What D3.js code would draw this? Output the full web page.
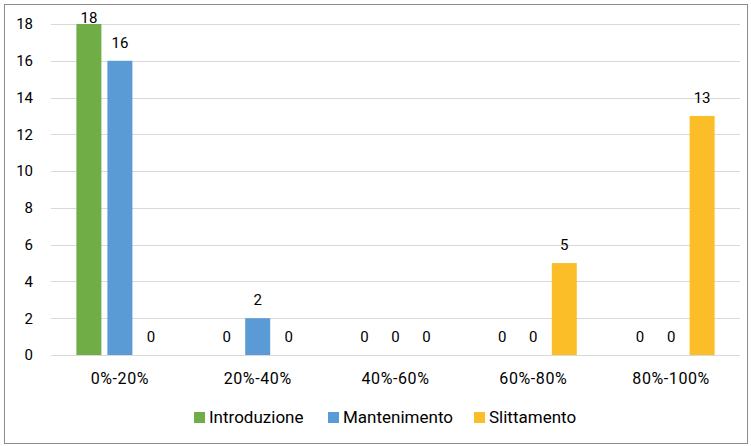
<!DOCTYPE html>
<html>
<head>
<meta charset="utf-8">
<script src="https://cdn.jsdelivr.net/npm/d3@7"></script>
<style>
  html, body { margin: 0; padding: 0; background: #fff; }
  svg { display: block; font-family: Roboto, "Noto Sans", sans-serif; }
</style>
</head>
<body>
<svg id="chart" width="751" height="446"></svg>
<script>
// Percentage ranges on the x axis
const categories = ["0%-20%", "20%-40%", "40%-60%", "60%-80%", "80%-100%"];
// One series per phase
const seriesNames = ["Introduzione", "Mantenimento", "Slittamento"];
const introduzione = [18, 0, 0, 0, 0];
const mantenimento = [16, 2, 0, 0, 0];
const slittamento = [0, 0, 0, 5, 13];
const yTicks = [0, 2, 4, 6, 8, 10, 12, 14, 16, 18];
const colors = ["#70AD47", "#5B9BD5", "#FBBE28"];

const seriesValues = [introduzione, mantenimento, slittamento];
const FONT = "Roboto, 'Noto Sans', sans-serif";
const FS = 15;

const svg = d3.select("#chart");
const W = 751, H = 446;

// Outer frame
svg.append("rect")
  .attr("x", 4.5).attr("y", 4.5)
  .attr("width", W - 8).attr("height", H - 7)
  .attr("fill", "#fff").attr("stroke", "#8c8c8c").attr("stroke-width", 1);

const plot = { left: 51, right: 740, top: 24, bottom: 355 };

const x = d3.scaleBand().domain(categories).range([plot.left, plot.right]);
const xInner = d3.scaleBand().domain(seriesNames)
  .range([0, 87]).paddingInner(0.194);
const y = d3.scaleLinear().domain([0, 18]).range([plot.bottom, plot.top]);

// Horizontal gridlines
svg.append("g").selectAll("line").data(yTicks).join("line")
  .attr("x1", plot.left).attr("x2", plot.right)
  .attr("y1", d => Math.round(y(d)) + 0.5).attr("y2", d => Math.round(y(d)) + 0.5)
  .attr("stroke", "#d9d9d9").attr("stroke-width", 1);

// Y axis tick labels
const yAxis = d3.axisLeft(y).tickValues(yTicks).tickSize(0).tickPadding(0);
svg.append("g")
  .attr("transform", `translate(${plot.left - 18},0)`)
  .call(yAxis)
  .call(g => g.select(".domain").remove())
  .call(g => g.selectAll("text")
    .attr("font-size", FS).attr("fill", "#000")
    .attr("font-family", FONT));

// X axis category labels
const xAxis = d3.axisBottom(x).tickSize(0).tickPadding(0);
svg.append("g")
  .attr("transform", `translate(0,${plot.bottom + 18})`)
  .call(xAxis)
  .call(g => g.select(".domain").remove())
  .call(g => g.selectAll("text")
    .attr("font-size", FS + 1).attr("fill", "#000")
    .attr("letter-spacing", 0.6)
    .attr("font-family", FONT));

// Bars and value labels
const groupOffset = (x.bandwidth() - 87) / 2;
const groups = svg.append("g").selectAll("g").data(categories).join("g")
  .attr("transform", d => `translate(${x(d) + groupOffset},0)`);

seriesNames.forEach((name, si) => {
  groups.append("rect")
    .attr("x", xInner(name))
    .attr("width", xInner.bandwidth())
    .attr("y", (d, i) => y(seriesValues[si][i]))
    .attr("height", (d, i) => y(0) - y(seriesValues[si][i]))
    .attr("fill", colors[si]);

  groups.append("text")
    .attr("x", xInner(name) + xInner.bandwidth() / 2)
    .attr("y", (d, i) => Math.max(y(seriesValues[si][i]) - 13, plot.top - 1))
    .attr("text-anchor", "middle")
    .attr("font-size", FS).attr("fill", "#000")
    .text((d, i) => seriesValues[si][i]);
});

// Legend
const legendX = [194, 328, 474];
const legend = svg.append("g").selectAll("g").data(seriesNames).join("g")
  .attr("transform", (d, i) => `translate(${legendX[i]},412)`);
legend.append("rect").attr("width", 11).attr("height", 11)
  .attr("fill", (d, i) => colors[i]);
legend.append("text").attr("x", 15).attr("y", 11)
  .attr("font-size", 17).attr("fill", "#000")
  .text(d => d);
</script>
</body>
</html>
